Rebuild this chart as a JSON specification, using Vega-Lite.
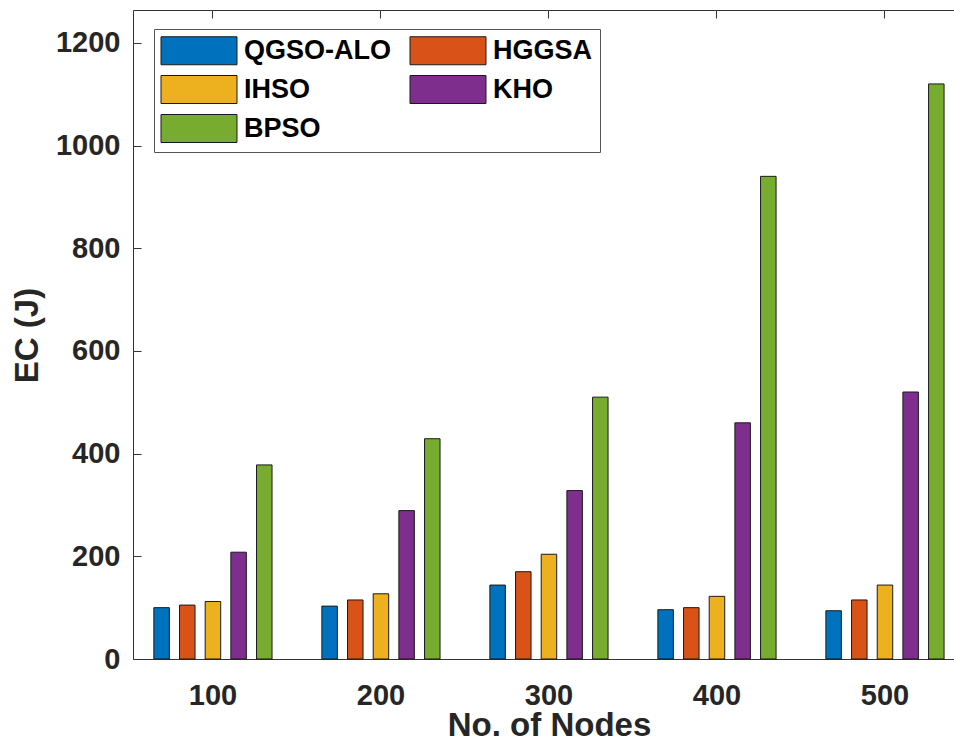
{
  "$schema": "https://vega.github.io/schema/vega-lite/v6.json",
  "width": 821,
  "height": 649,
  "autosize": {"type": "none"},
  "padding": {"left": 133, "top": 10, "right": 0, "bottom": 92},
  "background": "white",
  "config": {
    "view": {"stroke": "#333333", "strokeWidth": 1},
    "font": "Liberation Sans"
  },
  "data": {
    "values": [
      {"nodes": "100", "algo": "QGSO-ALO", "ec": 100},
      {"nodes": "100", "algo": "HGGSA", "ec": 105},
      {"nodes": "100", "algo": "IHSO", "ec": 112},
      {"nodes": "100", "algo": "KHO", "ec": 208},
      {"nodes": "100", "algo": "BPSO", "ec": 378},
      {"nodes": "200", "algo": "QGSO-ALO", "ec": 103},
      {"nodes": "200", "algo": "HGGSA", "ec": 115},
      {"nodes": "200", "algo": "IHSO", "ec": 127},
      {"nodes": "200", "algo": "KHO", "ec": 289},
      {"nodes": "200", "algo": "BPSO", "ec": 429},
      {"nodes": "300", "algo": "QGSO-ALO", "ec": 144},
      {"nodes": "300", "algo": "HGGSA", "ec": 170},
      {"nodes": "300", "algo": "IHSO", "ec": 204},
      {"nodes": "300", "algo": "KHO", "ec": 328},
      {"nodes": "300", "algo": "BPSO", "ec": 510},
      {"nodes": "400", "algo": "QGSO-ALO", "ec": 96},
      {"nodes": "400", "algo": "HGGSA", "ec": 100},
      {"nodes": "400", "algo": "IHSO", "ec": 122},
      {"nodes": "400", "algo": "KHO", "ec": 460},
      {"nodes": "400", "algo": "BPSO", "ec": 940},
      {"nodes": "500", "algo": "QGSO-ALO", "ec": 94},
      {"nodes": "500", "algo": "HGGSA", "ec": 115},
      {"nodes": "500", "algo": "IHSO", "ec": 144},
      {"nodes": "500", "algo": "KHO", "ec": 520},
      {"nodes": "500", "algo": "BPSO", "ec": 1120}
    ]
  },
  "layer": [
    {
      "mark": {"type": "bar", "stroke": "#1a1a1a", "strokeWidth": 1},
      "encoding": {
        "x": {
          "field": "nodes", "type": "ordinal",
          "scale": {"paddingInner": 0.236, "paddingOuter": 0.0613, "align": 0.765},
          "axis": {
            "orient": "bottom",
            "title": "No. of Nodes",
            "titleFont": "Liberation Sans", "titleFontSize": 33, "titleFontWeight": "bold", "titleColor": "#262626",
            "titleX": 416, "titleY": 76, "titleBaseline": "alphabetic", "titleAlign": "center",
            "labelFont": "Liberation Sans", "labelFontSize": 29, "labelFontWeight": "bold", "labelColor": "#262626",
            "labelAngle": 0, "labelBaseline": "alphabetic", "labelPadding": 53,
            "tickSize": -8, "tickColor": "#333333", "domain": false, "grid": false
          }
        },
        "xOffset": {
          "field": "algo", "type": "nominal",
          "sort": ["QGSO-ALO", "HGGSA", "IHSO", "KHO", "BPSO"],
          "scale": {"paddingInner": 0.396, "paddingOuter": 0.198}
        },
        "y": {
          "field": "ec", "type": "quantitative",
          "scale": {"domain": [0, 1264], "nice": false, "zero": true},
          "axis": {
            "values": [0, 200, 400, 600, 800, 1000, 1200],
            "format": "d",
            "title": "EC (J)",
            "titleFont": "Liberation Sans", "titleFontSize": 33, "titleFontWeight": "bold", "titleColor": "#262626",
            "titleX": -96, "titleY": 325, "titleAngle": -90, "titleBaseline": "alphabetic", "titleAlign": "center",
            "labelFont": "Liberation Sans", "labelFontSize": 29, "labelFontWeight": "bold", "labelColor": "#262626",
            "labelPadding": 21, "labelBaseline": "middle",
            "tickSize": -8, "tickColor": "#333333", "domain": false, "grid": false
          }
        },
        "color": {
          "field": "algo", "type": "nominal",
          "scale": {
            "domain": ["QGSO-ALO", "HGGSA", "IHSO", "KHO", "BPSO"],
            "range": ["#0072BD", "#D95319", "#EDB120", "#7E2F8E", "#77AC30"]
          },
          "legend": {
            "title": null,
            "values": ["QGSO-ALO", "IHSO", "BPSO", "HGGSA", "KHO"],
            "orient": "none", "legendX": 21, "legendY": 19,
            "columns": 2,
            "symbolType": "M-2.714,-1H2.714V1H-2.714Z",
            "symbolSize": 784,
            "symbolOffset": 23.5,
            "symbolStrokeColor": "#1a1a1a", "symbolStrokeWidth": 1, "symbolOpacity": 1,
            "labelFont": "Liberation Sans", "labelFontSize": 27, "labelFontWeight": "bold", "labelColor": "#000000",
            "labelOffset": 30.5, "labelLimit": 300,
            "rowPadding": 6, "columnPadding": 17,
            "padding": 7,
            "strokeColor": "#555555", "fillColor": "white"
          }
        }
      }
    },
    {
      "mark": {"type": "bar", "opacity": 0},
      "encoding": {
        "x": {
          "field": "nodes", "type": "ordinal",
          "axis": {"orient": "top", "title": null, "labels": false, "tickSize": -8, "tickColor": "#333333", "domain": false, "grid": false}
        },
        "y": {"field": "ec", "type": "quantitative"}
      }
    }
  ],
  "resolve": {"axis": {"x": "independent"}}
}
